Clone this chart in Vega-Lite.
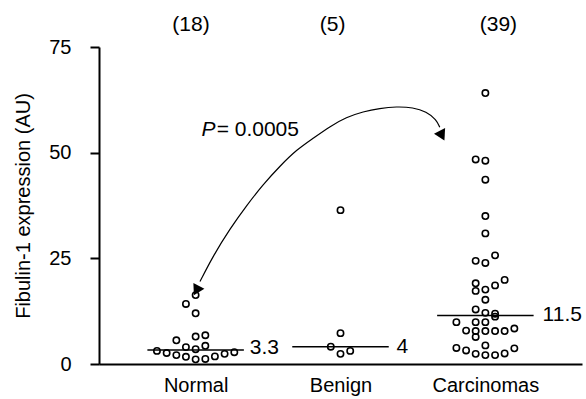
{
  "$schema": "https://vega.github.io/schema/vega-lite/v6.json",
  "width": 483,
  "height": 317,
  "autosize": {"type": "none"},
  "padding": {"left": 99, "top": 47, "right": 4, "bottom": 35},
  "background": "white",
  "config": {
    "view": {"stroke": null},
    "font": "Liberation Sans",
    "axis": {"domainColor": "black", "tickColor": "black", "labelColor": "black", "titleColor": "black", "grid": false}
  },
  "datasets": {
    "pts": [
      {"group": "Normal", "x": 0.0, "y": 16.3},
      {"group": "Normal", "x": -0.067, "y": 14.2},
      {"group": "Normal", "x": 0.0, "y": 12.0},
      {"group": "Normal", "x": -0.133, "y": 5.6},
      {"group": "Normal", "x": 0.0, "y": 6.5},
      {"group": "Normal", "x": 0.067, "y": 6.8},
      {"group": "Normal", "x": -0.067, "y": 4.0},
      {"group": "Normal", "x": 0.0, "y": 3.5},
      {"group": "Normal", "x": 0.067, "y": 4.3},
      {"group": "Normal", "x": -0.267, "y": 3.1},
      {"group": "Normal", "x": -0.2, "y": 2.6},
      {"group": "Normal", "x": -0.133, "y": 2.1},
      {"group": "Normal", "x": -0.067, "y": 1.7},
      {"group": "Normal", "x": 0.0, "y": 1.1},
      {"group": "Normal", "x": 0.067, "y": 1.2},
      {"group": "Normal", "x": 0.133, "y": 1.8},
      {"group": "Normal", "x": 0.2, "y": 2.4},
      {"group": "Normal", "x": 0.267, "y": 2.8},
      {"group": "Benign", "x": 1.0, "y": 36.4},
      {"group": "Benign", "x": 1.0, "y": 7.3},
      {"group": "Benign", "x": 0.933, "y": 4.1},
      {"group": "Benign", "x": 1.0, "y": 2.4},
      {"group": "Benign", "x": 1.067, "y": 3.1},
      {"group": "Carcinomas", "x": 2.0, "y": 64.1},
      {"group": "Carcinomas", "x": 1.933, "y": 48.4},
      {"group": "Carcinomas", "x": 2.0, "y": 48.1},
      {"group": "Carcinomas", "x": 2.0, "y": 43.6},
      {"group": "Carcinomas", "x": 2.0, "y": 35.0},
      {"group": "Carcinomas", "x": 2.0, "y": 30.9},
      {"group": "Carcinomas", "x": 1.933, "y": 24.4},
      {"group": "Carcinomas", "x": 2.0, "y": 23.9},
      {"group": "Carcinomas", "x": 2.067, "y": 25.7},
      {"group": "Carcinomas", "x": 1.933, "y": 19.1},
      {"group": "Carcinomas", "x": 1.933, "y": 17.3},
      {"group": "Carcinomas", "x": 2.0, "y": 17.6},
      {"group": "Carcinomas", "x": 2.067, "y": 18.6},
      {"group": "Carcinomas", "x": 2.133, "y": 19.9},
      {"group": "Carcinomas", "x": 2.0, "y": 15.2},
      {"group": "Carcinomas", "x": 1.933, "y": 12.9},
      {"group": "Carcinomas", "x": 2.0, "y": 12.1},
      {"group": "Carcinomas", "x": 2.067, "y": 11.9},
      {"group": "Carcinomas", "x": 2.067, "y": 11.2},
      {"group": "Carcinomas", "x": 1.8, "y": 9.9},
      {"group": "Carcinomas", "x": 1.933, "y": 9.9},
      {"group": "Carcinomas", "x": 2.0, "y": 9.9},
      {"group": "Carcinomas", "x": 1.867, "y": 7.9},
      {"group": "Carcinomas", "x": 1.933, "y": 7.8},
      {"group": "Carcinomas", "x": 1.933, "y": 6.4},
      {"group": "Carcinomas", "x": 2.0, "y": 7.8},
      {"group": "Carcinomas", "x": 2.067, "y": 7.8},
      {"group": "Carcinomas", "x": 2.133, "y": 7.8},
      {"group": "Carcinomas", "x": 2.2, "y": 8.4},
      {"group": "Carcinomas", "x": 1.8, "y": 3.8},
      {"group": "Carcinomas", "x": 1.867, "y": 3.2},
      {"group": "Carcinomas", "x": 1.933, "y": 2.4},
      {"group": "Carcinomas", "x": 2.0, "y": 4.4},
      {"group": "Carcinomas", "x": 2.0, "y": 2.1},
      {"group": "Carcinomas", "x": 2.067, "y": 2.1},
      {"group": "Carcinomas", "x": 2.133, "y": 2.5},
      {"group": "Carcinomas", "x": 2.2, "y": 3.7}
    ],
    "medians": [
      {"group": "Normal", "x": -0.333, "x2": 0.333, "y": 3.3},
      {"group": "Benign", "x": 0.667, "x2": 1.333, "y": 4.1},
      {"group": "Carcinomas", "x": 1.667, "x2": 2.333, "y": 11.5}
    ],
    "medianLabels": [
      {"x": 0.374, "y": 3.9, "label": "3.3"},
      {"x": 1.386, "y": 4.0, "label": "4"},
      {"x": 2.395, "y": 11.7, "label": "11.5"}
    ],
    "counts": [
      {"x": -0.032, "y": 80.1, "label": "(18)"},
      {"x": 0.945, "y": 80.1, "label": "(5)"},
      {"x": 2.09, "y": 80.1, "label": "(39)"}
    ],
    "curve": [
      {"o": 1, "x": 0.03, "y": 19.5},
      {"o": 2, "x": 0.121, "y": 25.6},
      {"o": 3, "x": 0.237, "y": 32.0},
      {"o": 4, "x": 0.352, "y": 37.5},
      {"o": 5, "x": 0.466, "y": 42.5},
      {"o": 6, "x": 0.581, "y": 46.8},
      {"o": 7, "x": 0.697, "y": 50.7},
      {"o": 8, "x": 0.811, "y": 53.4},
      {"o": 9, "x": 0.926, "y": 56.2},
      {"o": 10, "x": 1.041, "y": 58.4},
      {"o": 11, "x": 1.156, "y": 59.7},
      {"o": 12, "x": 1.271, "y": 60.5},
      {"o": 13, "x": 1.386, "y": 60.9},
      {"o": 14, "x": 1.501, "y": 60.7},
      {"o": 15, "x": 1.593, "y": 59.7},
      {"o": 16, "x": 1.662, "y": 57.8},
      {"o": 17, "x": 1.685, "y": 56.0}
    ],
    "heads": [
      {"x": 0.011, "y": 17.75, "a": 207.7},
      {"x": 1.695, "y": 54.4, "a": 153.4}
    ],
    "pItalic": [
      {"x": 0.041, "y": 55.3, "label": "P"}
    ],
    "pRest": [
      {"x": 0.145, "y": 55.3, "label": "= 0.0005"}
    ]
  },
  "encoding": {
    "x": {
      "field": "x",
      "type": "quantitative",
      "scale": {"domain": [-0.667, 2.667], "nice": false, "zero": false},
      "axis": {
        "values": [0, 1, 2],
        "labelExpr": "datum.value == 0 ? 'Normal' : datum.value == 1 ? 'Benign' : 'Carcinomas'",
        "ticks": false,
        "title": null,
        "domainWidth": 2,
        "labelFontSize": 20,
        "labelPadding": 11,
        "labelFlush": false
      }
    },
    "y": {
      "field": "y",
      "type": "quantitative",
      "scale": {"domain": [0, 75], "nice": false},
      "axis": {
        "values": [0, 25, 50, 75],
        "title": "Fibulin-1 expression (AU)",
        "titleFontSize": 20,
        "titleFontWeight": "normal",
        "titlePadding": 15,
        "labelFontSize": 20,
        "labelPadding": 19,
        "tickSize": 9,
        "tickWidth": 2,
        "domainWidth": 2
      }
    }
  },
  "layer": [
    {
      "data": {"name": "medians"},
      "mark": {"type": "rule", "color": "black", "strokeWidth": 1.5},
      "encoding": {"x2": {"field": "x2"}}
    },
    {
      "data": {"name": "pts"},
      "mark": {"type": "point", "shape": "circle", "filled": false, "color": "black", "strokeWidth": 1.6, "size": 40, "opacity": 1}
    },
    {
      "data": {"name": "medianLabels"},
      "mark": {"type": "text", "align": "left", "baseline": "middle", "fontSize": 21, "color": "black"},
      "encoding": {"text": {"field": "label"}}
    },
    {
      "data": {"name": "counts"},
      "mark": {"type": "text", "align": "center", "baseline": "middle", "fontSize": 21, "color": "black"},
      "encoding": {"text": {"field": "label"}}
    },
    {
      "data": {"name": "curve"},
      "mark": {"type": "line", "color": "black", "strokeWidth": 1.2, "interpolate": "basis"},
      "encoding": {"order": {"field": "o"}}
    },
    {
      "data": {"name": "heads"},
      "mark": {"type": "point", "shape": "triangle", "filled": true, "color": "black", "size": 155, "opacity": 1},
      "encoding": {"angle": {"field": "a", "type": "quantitative", "scale": null}}
    },
    {
      "data": {"name": "pItalic"},
      "mark": {"type": "text", "align": "left", "baseline": "middle", "fontSize": 21, "fontStyle": "italic", "color": "black"},
      "encoding": {"text": {"field": "label"}}
    },
    {
      "data": {"name": "pRest"},
      "mark": {"type": "text", "align": "left", "baseline": "middle", "fontSize": 21, "color": "black"},
      "encoding": {"text": {"field": "label"}}
    }
  ]
}
